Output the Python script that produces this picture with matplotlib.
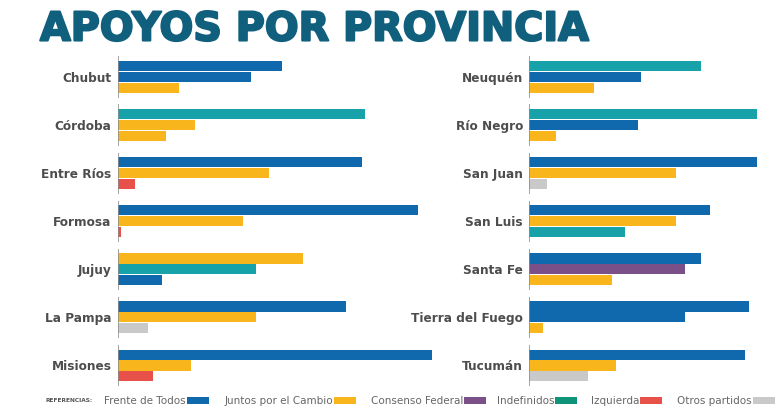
import matplotlib
matplotlib.use("Agg")
import matplotlib.pyplot as plt
import matplotlib.patheffects as pe
from matplotlib.patches import Rectangle

# Datos: porcentaje de votos por provincia (3 barras por provincia)
prov_izq = ["Chubut", "Córdoba", "Entre Ríos", "Formosa", "Jujuy", "La Pampa", "Misiones"]
partidos_izq = [
    ["FdT", "FdT", "JxC"],
    ["IND", "JxC", "JxC"],
    ["FdT", "JxC", "IZQ"],
    ["FdT", "JxC", "IZQ"],
    ["JxC", "IND", "FdT"],
    ["FdT", "JxC", "OTR"],
    ["FdT", "JxC", "IZQ"],
]
valores_izq = [
    [38.1, 31.0, 14.3],
    [57.4, 18.0, 11.2],
    [56.9, 35.1, 4.1],
    [69.9, 29.2, 0.8],
    [43.0, 32.1, 10.2],
    [53.1, 32.1, 7.1],
    [73.0, 17.0, 8.1],
]

prov_der = ["Neuquén", "Río Negro", "San Juan", "San Luis", "Santa Fe", "Tierra del Fuego", "Tucumán"]
partidos_der = [
    ["IND", "FdT", "JxC"],
    ["IND", "FdT", "JxC"],
    ["FdT", "JxC", "OTR"],
    ["FdT", "JxC", "IND"],
    ["FdT", "CF", "JxC"],
    ["FdT", "FdT", "JxC"],
    ["FdT", "JxC", "OTR"],
]
valores_der = [
    [40.1, 26.0, 15.1],
    [53.0, 25.3, 6.2],
    [53.0, 34.2, 4.2],
    [42.1, 34.2, 22.3],
    [40.1, 36.3, 19.2],
    [51.2, 36.3, 3.2],
    [50.2, 20.2, 13.7],
]

colores = {"FdT": "#1169ad", "JxC": "#f9b51c", "CF": "#7b5089",
           "IND": "#17a2a9", "IZQ": "#e8504a", "OTR": "#c9c9c9"}

leyenda = [("Frente de Todos", "#1169ad"), ("Juntos por el Cambio", "#f9b51c"),
           ("Consenso Federal", "#7b5089"), ("Indefinidos", "#0f9479"),
           ("Izquierda", "#e8504a"), ("Otros partidos", "#c9c9c9")]

W, H = 780, 419
PX = 4.3  # pixeles por punto porcentual
fig = plt.figure(figsize=(W / 100, H / 100), dpi=100)

def panel(x0, ancho, provincias, partidos, valores):
    ax = fig.add_axes([x0 / W, 1 - 389.5 / H, ancho / W, 336.5 / H])
    for i, (parts, vals) in enumerate(zip(partidos, valores)):
        for j, (p, v) in enumerate(zip(parts, vals)):
            ax.barh(i + (j - 1) * 0.226, v, height=0.212, color=colores[p], linewidth=0)
        ax.plot([0, 0], [i - 0.43, i + 0.43], color="#8c8c8c", lw=1.1, solid_capstyle="butt")
    ax.set_xlim(0, ancho / PX)
    ax.set_ylim(6.5, -0.5)
    ax.set_yticks(range(len(provincias)))
    ax.set_yticklabels(provincias, fontsize=8.7, fontweight="bold", color="#4d4d4d",
                       family="DejaVu Sans")
    ax.tick_params(axis="y", length=0, pad=4.3)
    ax.set_xticks([])
    for s in ax.spines.values():
        s.set_visible(False)
    ax.patch.set_alpha(0)
    return ax

panel(117.7, 330, prov_izq, partidos_izq, valores_izq)
panel(529, 245, prov_der, partidos_der, valores_der)

# Titulo
titulo = fig.text(40 / W, 1 - 40.5 / H, "APOYOS POR PROVINCIA", fontsize=28.6, fontweight="bold",
                  family="DejaVu Sans", color="#0f5f7d", ha="left", va="baseline")
titulo.set_path_effects([pe.Stroke(linewidth=1.5, foreground="#0f5f7d"), pe.Normal()])

# Referencias
fig.text(46 / W, 1 - 400.5 / H, "REFERENCIAS:", fontsize=4.2, fontweight="bold",
         family="DejaVu Sans", color="#555555", ha="left", va="center")
pos_parche = [187, 334, 464, 555, 640, 753]
for (nombre, col), px in zip(leyenda, pos_parche):
    fig.text((px - 1) / W, 1 - 400.5 / H, nombre, fontsize=7.5, family="DejaVu Sans",
             color="#666666", ha="right", va="center")
    fig.patches.append(Rectangle((px / W, 1 - 404 / H), 22 / W, 7 / H,
                                 transform=fig.transFigure, color=col, lw=0))

fig.savefig("out.png", dpi=100)
